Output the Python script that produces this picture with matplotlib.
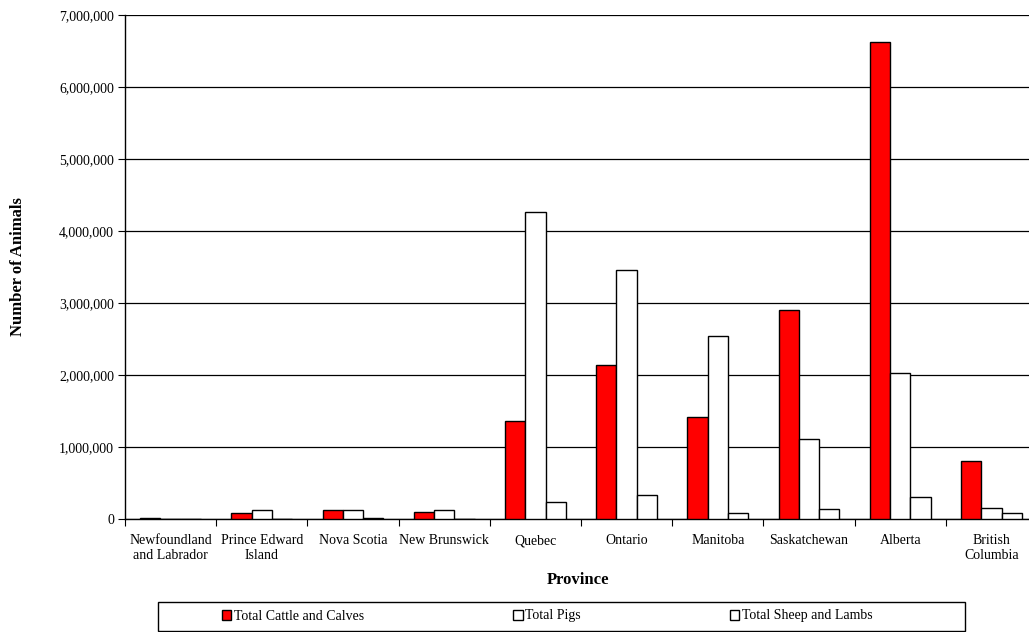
import numpy as np
import matplotlib.pyplot as plt
from matplotlib.patches import Rectangle
from matplotlib.ticker import FuncFormatter, FixedLocator

# livestock counts by province
provinces = ["Newfoundland\nand Labrador", "Prince Edward\nIsland", "Nova Scotia",
             "New Brunswick", "Quebec", "Ontario", "Manitoba", "Saskatchewan",
             "Alberta", "British\nColumbia"]
cattle = [8000, 83000, 120000, 97000, 1365000, 2143000, 1410000, 2897000, 6620000, 800000]
pigs = [2000, 120000, 120000, 130000, 4270000, 3460000, 2545000, 1110000, 2030000, 157000]
sheep = [5000, 4000, 18000, 5000, 240000, 338000, 79000, 143000, 300000, 79000]
series_names = ["Total Cattle and Calves", "Total Pigs", "Total Sheep and Lambs"]

plt.rcParams['font.family'] = ['Liberation Serif', 'DejaVu Serif']

W, H = 1029, 632
fig = plt.figure(figsize=(W / 100, H / 100), dpi=100)
# plot area runs a little past the right edge of the figure
ax = fig.add_axes([125 / W, 1 - 519 / H, (1037 - 125) / W, (519 - 15) / H])

x = np.arange(len(provinces))
w = 0.222
colors = ["#ff0000", "white", "white"]
bars = []
for k, vals in enumerate([cattle, pigs, sheep]):
    b = ax.bar(x + (k - 1) * w, vals, width=w, color=colors[k],
               edgecolor="black", linewidth=1.0, zorder=3)
    bars.append(b)

ax.set_xlim(-0.5, len(provinces) - 0.5)
ax.set_ylim(0, 7000000)
ax.set_yticks(np.arange(0, 7000001, 1000000))
ax.yaxis.set_major_formatter(FuncFormatter(lambda v, p: f"{int(v):,}"))
ax.grid(axis="y", color="black", linewidth=0.9, zorder=0)

# boundaries get tick marks, centres get labels
ax.xaxis.set_major_locator(FixedLocator(np.arange(-0.5, len(provinces), 1.0)))
ax.set_xticklabels([])
ax.xaxis.set_minor_locator(FixedLocator(x))
ax.set_xticklabels(provinces, minor=True, fontsize=10)
ax.tick_params(axis="x", which="minor", length=0, pad=11)
ax.tick_params(axis="x", which="major", length=5, direction="out", color="black")
ax.tick_params(axis="y", length=5, direction="out", labelsize=10, pad=3)

for s in ["top", "right"]:
    ax.spines[s].set_visible(False)
ax.spines["left"].set_linewidth(1.0)
ax.spines["bottom"].set_linewidth(1.0)

fig.text(18 / W, 1 - 267 / H, "Number of Animals", rotation=90, fontsize=12,
         fontweight="bold", ha="center", va="center")
fig.text(578 / W, 1 - 580 / H, "Province", fontsize=12, fontweight="bold",
         ha="center", va="center")

# legend box along the bottom
fig.patches.append(Rectangle((158 / W, 1 - 631 / H), (965 - 158) / W, (631 - 602) / H,
                             transform=fig.transFigure, facecolor="white",
                             edgecolor="black", linewidth=1.0))
fig.legend([b[0] for b in bars], series_names, loc="center left",
           bbox_to_anchor=(216 / W, 1 - 616 / H), ncol=3, frameon=False,
           fontsize=10, handlelength=0.7, handleheight=0.7, handletextpad=0.2,
           columnspacing=10.7, borderaxespad=0)

fig.savefig("out.png", dpi=100)
